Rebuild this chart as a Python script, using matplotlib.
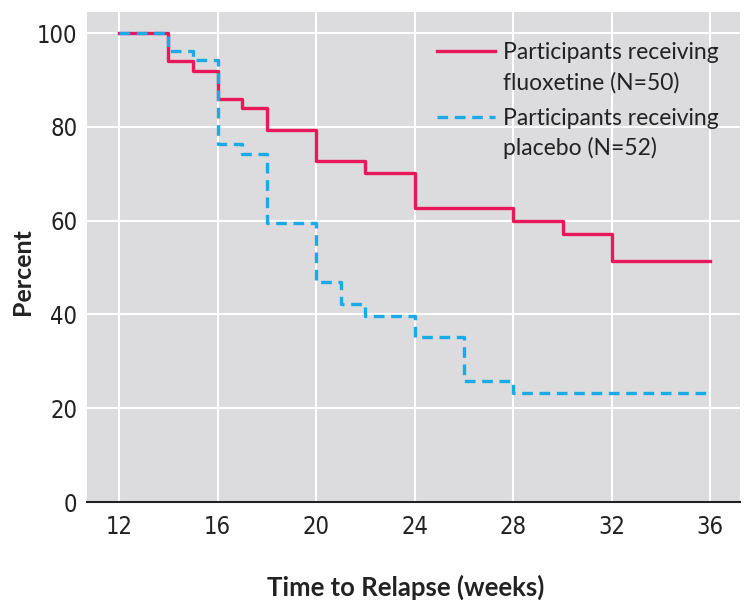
import matplotlib
matplotlib.use("Agg")
import matplotlib.pyplot as plt
from matplotlib.lines import Line2D

# Kaplan-Meier style step data
weeks_fluox = [12, 14, 15, 16, 17, 18, 20, 22, 24, 28, 30, 32, 36]
pct_fluox = [100, 94, 92, 86, 84, 79.3, 72.7, 70.1, 62.6, 59.9, 57.1, 51.4, 51.4]

weeks_plac = [12, 14, 15, 16, 17, 18, 20, 21, 22, 24, 26, 28, 36]
pct_plac = [100, 96.2, 94.2, 76.3, 74.2, 59.6, 47.0, 42.2, 39.7, 35.2, 25.7, 23.2, 23.2]

x_ticks = [12, 16, 20, 24, 28, 32, 36]
y_ticks = [0, 20, 40, 60, 80, 100]

label_fluox = ["Participants receiving", "fluoxetine (N=50)"]
label_plac = ["Participants receiving", "placebo (N=52)"]

RED = "#e8185a"
BLUE = "#1aaae6"
BG = "#dcdcde"
INK = "#222222"

text_font = ["Lato", "DejaVu Sans"]

fig = plt.figure(figsize=(7.54, 6.14), dpi=100)
ax = fig.add_axes([87 / 754, 1 - 502 / 614, 653 / 754, 490 / 614])
ax.set_facecolor(BG)

l_f, = ax.step(weeks_fluox, pct_fluox, where="post", color=RED, lw=2.4, zorder=3)
l_p, = ax.step(weeks_plac, pct_plac, where="post", color=BLUE, lw=2.4,
               dashes=(3.2, 2.0), zorder=3)

ax.set_xlim(10.7, 37.2)
ax.set_ylim(0, 104.5)
ax.set_xticks(x_ticks)
ax.set_yticks(y_ticks)
ax.grid(True, color="white", lw=1.5, zorder=1)
ax.set_axisbelow(True)

for s in ["top", "right", "left"]:
    ax.spines[s].set_visible(False)
ax.spines["bottom"].set_color(INK)
ax.spines["bottom"].set_linewidth(1.5)
ax.spines["bottom"].set_zorder(4)

ax.tick_params(length=0, labelsize=17, colors=INK)
ax.tick_params(axis="x", pad=9)
ax.tick_params(axis="y", pad=7)
for t in ax.get_xticklabels() + ax.get_yticklabels():
    t.set_family("DejaVu Sans")
    t.set_stretch("condensed")

# axis titles in figure coords so they stay inside the canvas
fig.text(406 / 754, 1 - 587 / 614, "Time to Relapse (weeks)", fontsize=18.5,
         fontweight="bold", family=text_font, color=INK, ha="center", va="center")
fig.text(22 / 754, 1 - 272 / 614, "Percent", fontsize=18, rotation=90,
         fontweight="bold", family=text_font, color=INK, ha="center", va="center")

# legend: one small legend per group, handle on the first label line
blank = Line2D([], [], color="none")
leg_kw = dict(loc="upper left", frameon=False,
              prop={"family": text_font, "size": 16.5},
              handlelength=2.5, handletextpad=0.35, labelspacing=0.36)
leg1 = ax.legend([l_f, blank], label_fluox, bbox_to_anchor=(0.505, 0.98), **leg_kw)
ax.add_artist(leg1)
leg2 = ax.legend([l_p, blank], label_plac, bbox_to_anchor=(0.505, 0.847), **leg_kw)
for lg in (leg1, leg2):
    for t in lg.get_texts():
        t.set_color(INK)

fig.savefig("out.png", dpi=100)
